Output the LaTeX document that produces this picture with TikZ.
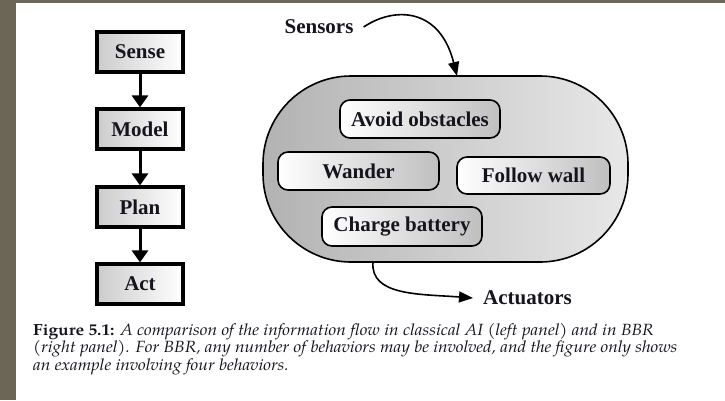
\documentclass[tikz,border=0pt]{standalone}
\usepackage{fontspec}
\setmainfont{Liberation Serif}
\newfontfamily\capfont{texgyrepagella}[Extension=.otf, UprightFont=*-regular, BoldFont=*-bold, ItalicFont=*-italic, BoldItalicFont=*-bolditalic, FakeStretch=1.07]
\usetikzlibrary{arrows.meta}
\definecolor{stripcol}{HTML}{6B6656}
\definecolor{txtcol}{HTML}{15151F}
\tikzset{
  lbl/.style={font=\fontsize{21}{23}\selectfont\bfseries, text=txtcol},
  classic/.style={draw=black, line width=3.2pt, left color=gray!40, right color=white,
    minimum width=86pt, minimum height=40pt, inner sep=0pt, lbl},
  behav/.style={draw=black, line width=1.6pt, rounded corners=10pt, left color=white, right color=gray!50,
    inner sep=0pt, lbl},
  bigarrow/.style={line width=3pt, -{Triangle[width=16pt,length=12pt]}},
  thinarrow/.style={line width=1.6pt, -{Triangle[width=11pt,length=14pt]}},
  capline/.style={anchor=base west, inner sep=0pt, font=\capfont\fontsize{16.2}{18}\selectfont, text=txtcol}
}
\begin{document}
\begin{tikzpicture}[x=1pt,y=-1pt]
\useasboundingbox (0,0) rectangle (725,400);
\fill[white] (0,0) rectangle (725,400);
\fill[stripcol] (0,0) rectangle (16,400);
\fill[stripcol] (0,0) rectangle (725,2.5);

% classical AI
\node[classic] (sense) at (140,52) {Sense};
\node[classic] (model) at (140,129) {Model};
\node[classic] (plan) at (140,207) {Plan};
\node[classic] (act) at (140,284) {Act};
\draw[bigarrow] (sense) -- (model);
\draw[bigarrow] (model) -- (plan);
\draw[bigarrow] (plan) -- (act);

% BBR
\node[draw=black, line width=1.6pt, rounded corners=88pt, left color=gray!60, right color=gray!18,
  minimum width=365pt, minimum height=186pt, inner sep=0pt] (bbr) at (445.5,169) {};
\node[behav, minimum width=160pt, minimum height=38pt] (avoid) at (420,119) {Avoid obstacles};
\node[behav, minimum width=161pt, minimum height=38pt] (wander) at (358.5,171) {Wander};
\node[behav, minimum width=153pt, minimum height=37pt] (follow) at (533.5,175.5) {Follow wall};
\node[behav, minimum width=160pt, minimum height=39pt] (charge) at (402,226.5) {Charge battery};

\node[lbl, inner sep=0pt] (sensors) at (319,27) {Sensors};
\node[lbl, inner sep=0pt] (actuators) at (527.5,298) {Actuators};
\coordinate (sin) at (457,76);
\coordinate (sout) at (373,262);
\draw[thinarrow] ([xshift=10pt]sensors.east) .. controls (395,6) and (440,8) .. (sin);
\draw[thinarrow] (sout) .. controls (370,296) and (420,294) .. ([xshift=-10pt]actuators.west);

% caption
\node[capline] (cap1) at (33,335) {\textbf{Figure 5.1:} \textit{A comparison of the information flow in classical AI (left panel) and in BBR}};
\node[capline] (cap2) at (33,352.5) {\textit{(right panel). For BBR, any number of behaviors may be involved, and the figure only shows}};
\node[capline] (cap3) at (33,370) {\textit{an example involving four behaviors.}};
\end{tikzpicture}
\end{document}
